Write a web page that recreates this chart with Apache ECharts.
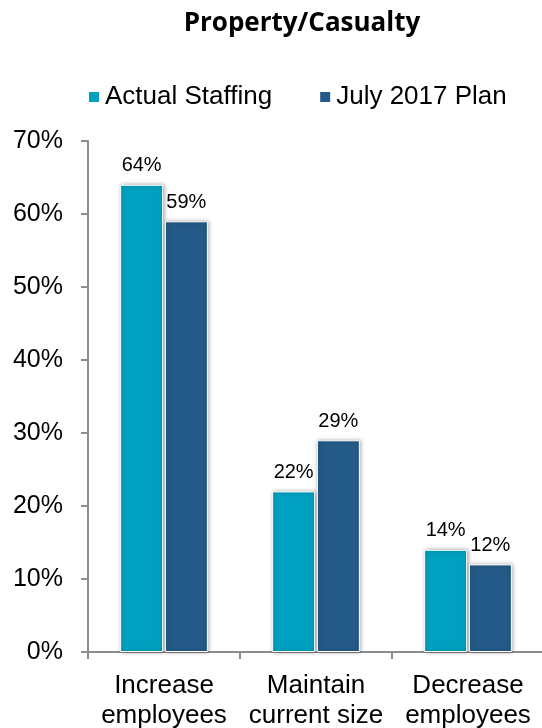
<!DOCTYPE html>
<html>
<head>
<meta charset="utf-8">
<script src="https://cdn.jsdelivr.net/npm/echarts@6/dist/echarts.min.js"></script>
<style>
  html, body { margin: 0; padding: 0; background: #fff; }
  #chart { width: 542px; height: 728px; }
</style>
</head>
<body>
<div id="chart"></div>
<script>
// Staffing outlook, Property/Casualty segment
const categories = ['Increase\nemployees', 'Maintain\ncurrent size', 'Decrease\nemployees'];
const actualStaffing = [64, 22, 14];
const july2017Plan = [59, 29, 12];
const yTicks = [0, 10, 20, 30, 40, 50, 60, 70];

const colors = { actual: '#00a0c1', plan: '#245a87' };
const font = '"Liberation Sans", Arial, sans-serif';

const barStyle = (c) => ({
  color: c,
  borderColor: '#ffffff',
  borderWidth: 1,
  shadowColor: 'rgba(0,0,0,0.35)',
  shadowBlur: 4,
  shadowOffsetX: 1,
  shadowOffsetY: 0
});

const labelStyle = {
  show: true,
  position: 'top',
  distance: 9,
  formatter: (p) => p.value + '%',
  color: '#000',
  fontFamily: font,
  fontSize: 20
};

const chart = echarts.init(document.getElementById('chart'));
chart.setOption({
  animation: false,
  title: {
    text: 'Property/Casualty',
    left: 297,
    top: 6,
    textAlign: 'center',
    textStyle: { fontFamily: '"Open Sans", sans-serif', fontWeight: 'bold', fontSize: 26, color: '#000' }
  },
  legend: {
    top: 79,
    left: 82,
    itemWidth: 12,
    itemHeight: 12,
    itemGap: 46,
    icon: 'rect',
    textStyle: { fontFamily: font, fontSize: 26, color: '#000' },
    data: ['Actual Staffing', 'July 2017 Plan']
  },
  grid: { left: 88, right: -2, top: 141, bottom: 76, outerBoundsMode: 'none', containLabel: false },
  xAxis: {
    type: 'category',
    data: categories,
    axisLine: { lineStyle: { color: '#8c8c8c', width: 2 } },
    axisTick: { show: true, length: 7, lineStyle: { color: '#8c8c8c', width: 2 } },
    axisLabel: {
      interval: 0, hideOverlap: false,
      color: '#000', fontFamily: font, fontSize: 26, lineHeight: 30, margin: 19
    }
  },
  yAxis: {
    type: 'value',
    min: yTicks[0],
    max: yTicks[yTicks.length - 1],
    interval: 10,
    axisLine: { show: true, lineStyle: { color: '#8c8c8c', width: 2 } },
    axisTick: { show: true, length: 7, lineStyle: { color: '#8c8c8c', width: 2 } },
    splitLine: { show: false },
    axisLabel: { color: '#000', fontFamily: font, fontSize: 25, margin: 25, formatter: '{value}%' }
  },
  series: [
    {
      name: 'Actual Staffing',
      type: 'bar',
      data: actualStaffing,
      barWidth: 43,
      barGap: '4%',
      itemStyle: barStyle(colors.actual),
      label: labelStyle
    },
    {
      name: 'July 2017 Plan',
      type: 'bar',
      data: july2017Plan,
      barWidth: 43,
      barGap: '4%',
      itemStyle: barStyle(colors.plan),
      label: labelStyle
    }
  ]
});
</script>
</body>
</html>
